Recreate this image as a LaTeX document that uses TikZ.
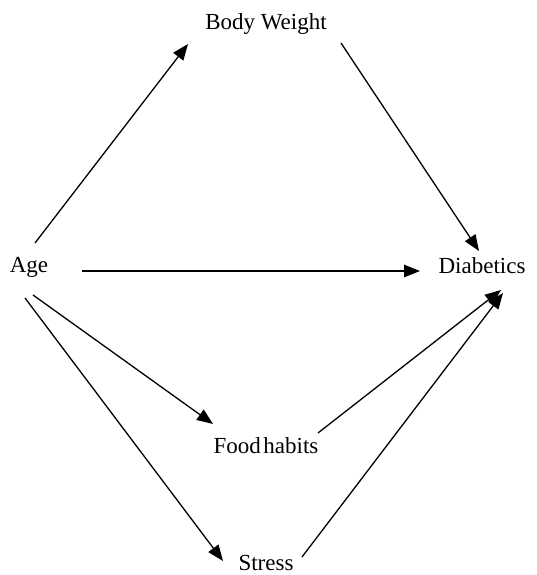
\documentclass[tikz,border=0pt]{standalone}
\usepackage{fontspec}
\setmainfont{Liberation Serif}
\usetikzlibrary{arrows.meta}
\begin{document}
\begin{tikzpicture}[x=1pt,y=-1pt,
  lbl/.style={inner sep=0pt, font=\fontsize{23}{26}\selectfont},
  arr/.style={line width=1.3pt, -{Triangle[length=16pt,width=12.5pt]}}]
\useasboundingbox (0,0) rectangle (536,575);
\node[lbl] (bw) at (266,24) {Body Weight};
\node[lbl] (age) at (29,267) {Age};
\node[lbl] (diab) at (482,266) {Diabetics};
\node[lbl] (food) at (266,446) {Food\kern2.5pt habits};
\node[lbl] (stress) at (266,563) {Stress};
% connector ends
\coordinate (ageA) at (35,243);
\coordinate (bwIn) at (188,44);
\coordinate (bwOut) at (341,43);
\coordinate (diabA) at (479,251);
\coordinate (ageB) at (82,271);
\coordinate (diabB) at (420,271);
\coordinate (ageC) at (33,295);
\coordinate (foodIn) at (213,424);
\coordinate (ageD) at (25,298);
\coordinate (stressIn) at (223,561);
\coordinate (foodOut) at (318,433);
\coordinate (diabC) at (501,290);
\coordinate (stressOut) at (302,557);
\coordinate (diabD) at (503,293);
\draw[arr] (ageA) -- (bwIn);
\draw[arr] (bwOut) -- (diabA);
\draw[arr] (ageB) -- (diabB);
\draw[arr] (ageC) -- (foodIn);
\draw[arr] (ageD) -- (stressIn);
\draw[arr] (foodOut) -- (diabC);
\draw[arr] (stressOut) -- (diabD);
\end{tikzpicture}
\end{document}
